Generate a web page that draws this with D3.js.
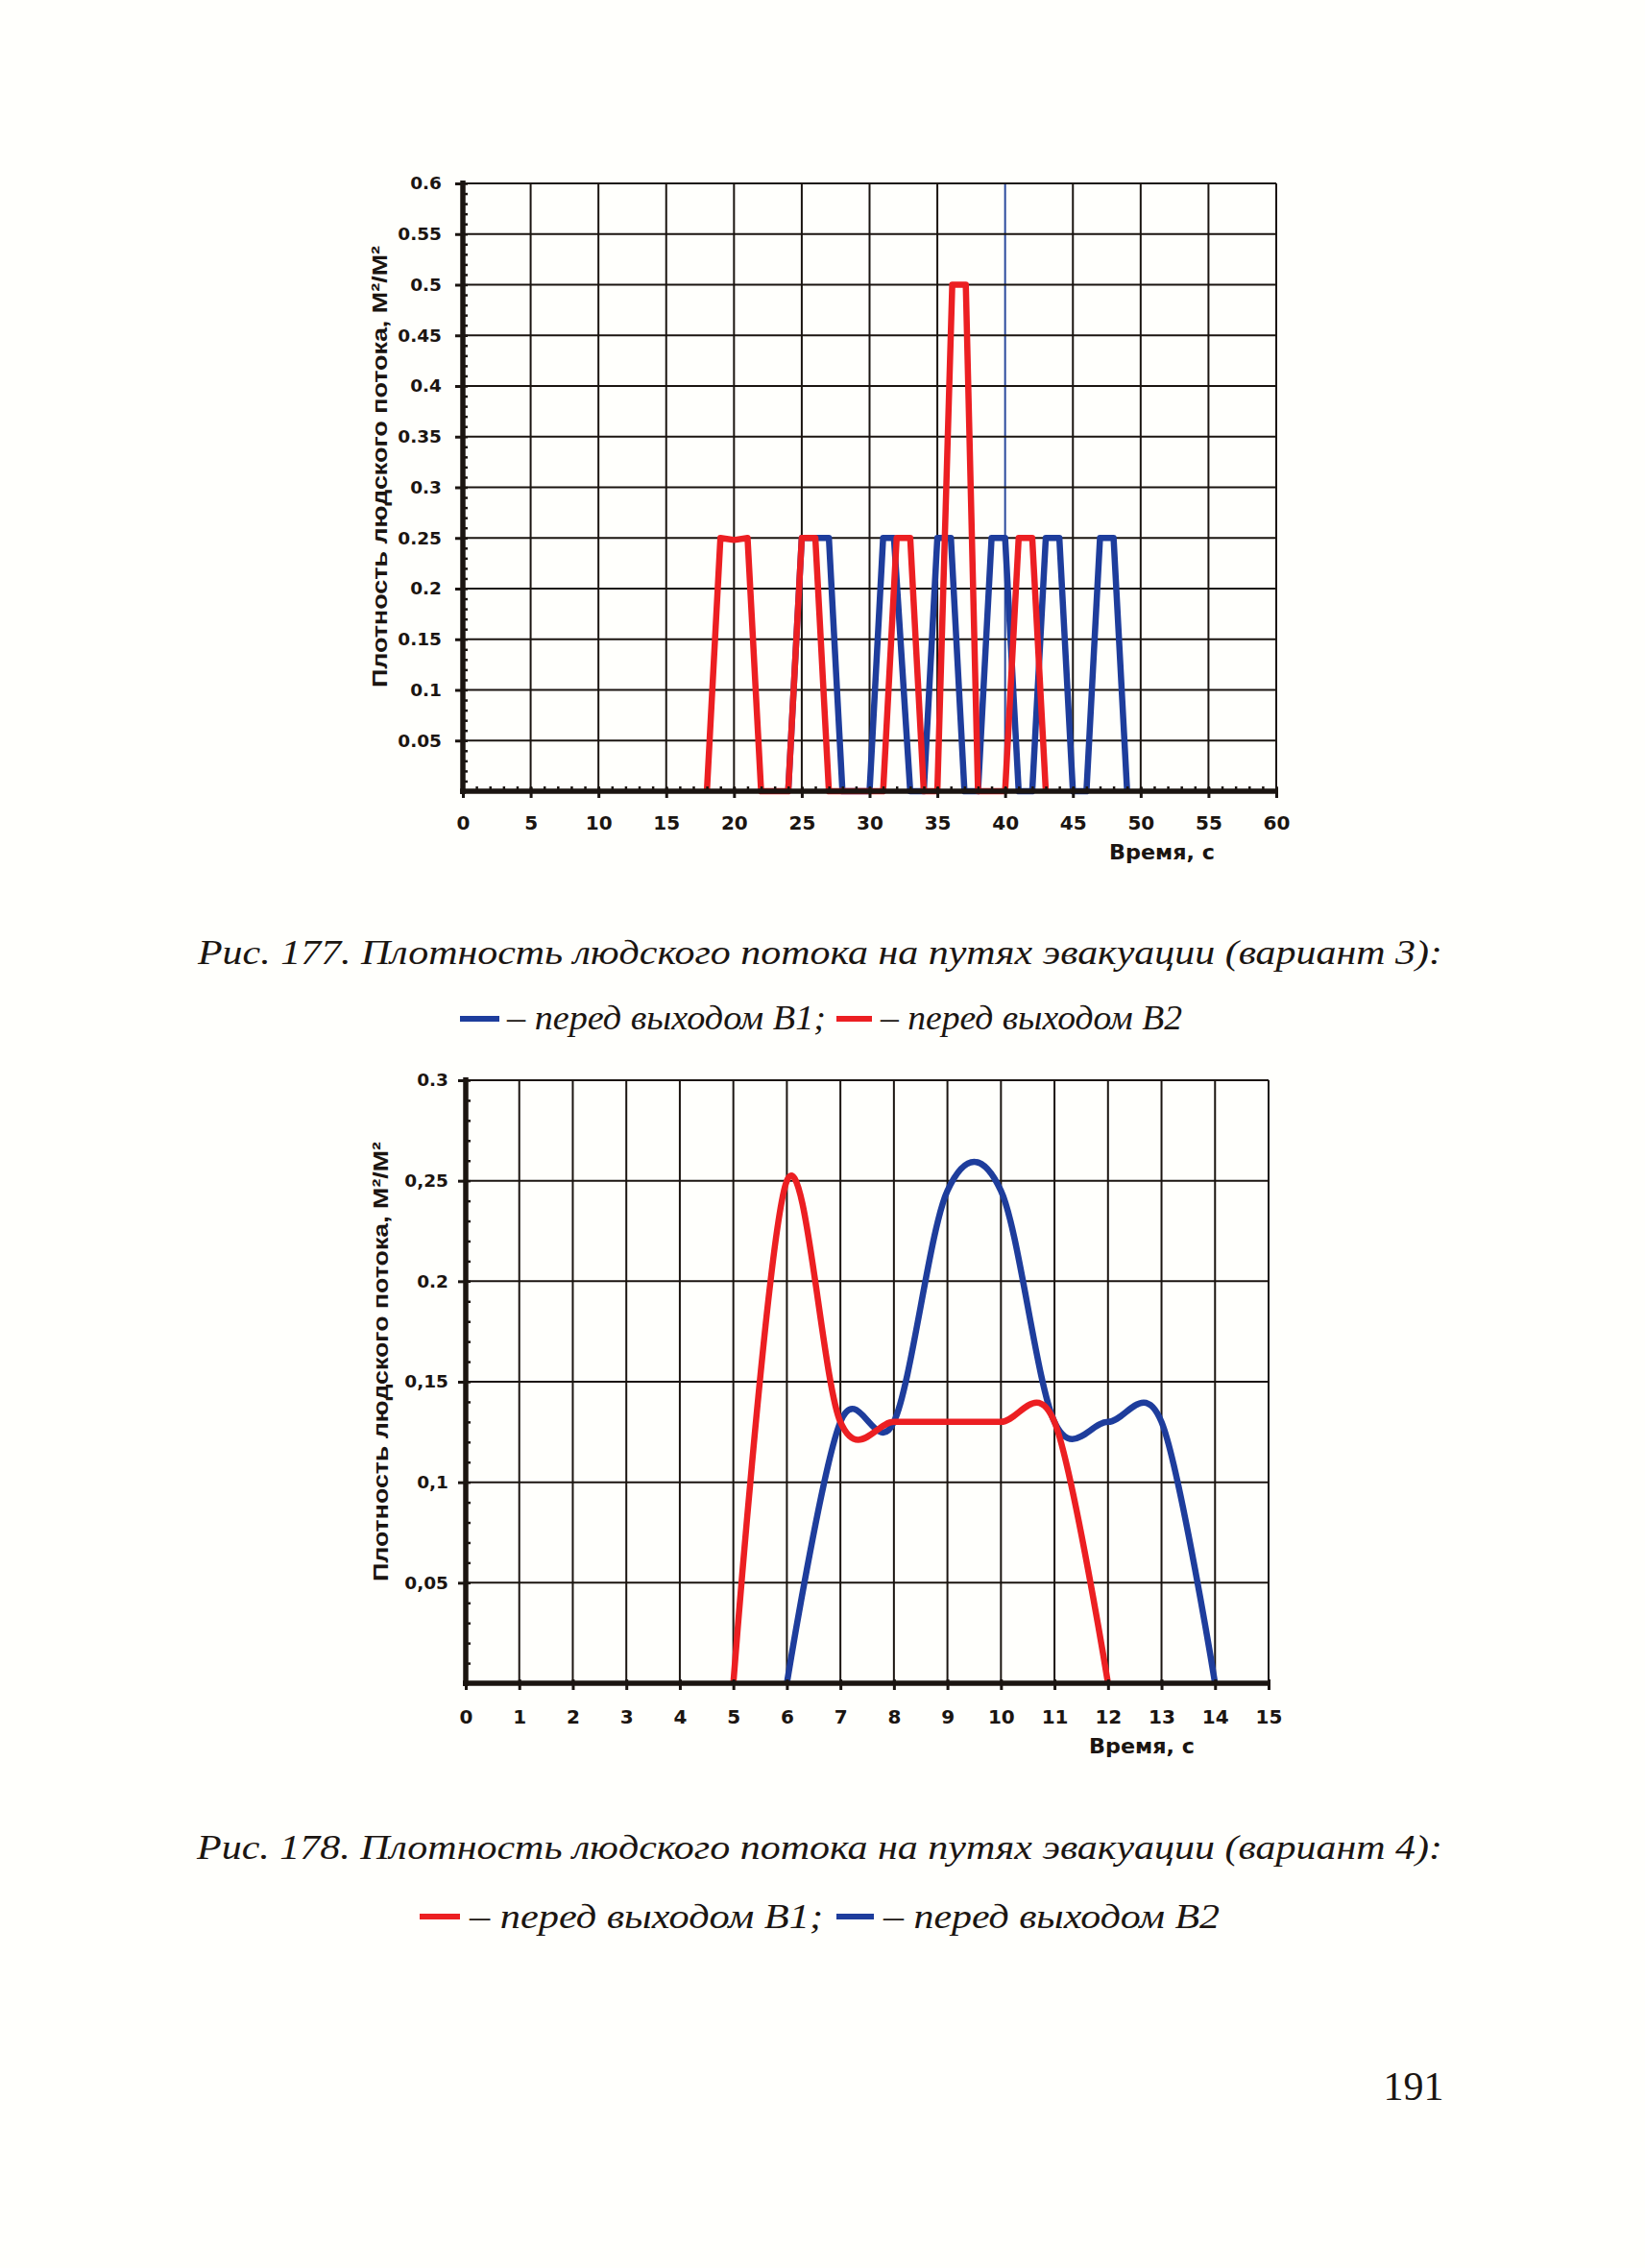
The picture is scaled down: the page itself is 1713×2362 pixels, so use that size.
<!DOCTYPE html>
<html><head><meta charset="utf-8">
<script src="https://cdn.jsdelivr.net/npm/d3@7"></script>
<style>body{margin:0;background:#fffffc}</style>
</head><body>
<svg id="page" width="1713" height="2362"></svg>
<script>
// ---------- DATA: Fig. 177 (variant 3) ----------
const fig177Time_B1    = [24, 25, 27, 28, 30, 31, 31.8, 33, 34, 35, 36, 37, 38, 39, 40, 41, 42, 43, 44, 45, 46, 47, 48, 49];
const fig177Density_B1 = [0, 0.25, 0.25, 0, 0, 0.25, 0.25, 0, 0, 0.25, 0.25, 0, 0, 0.25, 0.25, 0, 0, 0.25, 0.25, 0, 0, 0.25, 0.25, 0];
const fig177Time_B2    = [18, 19, 20, 21, 22, 24, 25, 26, 27, 31, 32, 33, 34, 35, 36.1, 37.1, 38, 40, 41, 42, 43];
const fig177Density_B2 = [0, 0.25, 0.248, 0.25, 0, 0, 0.25, 0.25, 0, 0, 0.25, 0.25, 0, 0, 0.5, 0.5, 0, 0, 0.25, 0.25, 0];
const fig177XTicks = [0, 5, 10, 15, 20, 25, 30, 35, 40, 45, 50, 55, 60];
const fig177YTicks = [0.05, 0.1, 0.15, 0.2, 0.25, 0.3, 0.35, 0.4, 0.45, 0.5, 0.55, 0.6];
const fig177YLabels = ["0.05", "0.1", "0.15", "0.2", "0.25", "0.3", "0.35", "0.4", "0.45", "0.5", "0.55", "0.6"];

// ---------- DATA: Fig. 178 (variant 4) ----------
const fig178Time_B1    = [5, 6, 7, 8, 9, 10, 11, 12];
const fig178Density_B1 = [0, 0.25, 0.13, 0.13, 0.13, 0.13, 0.13, 0];
const fig178Time_B2    = [6, 7, 8, 9, 10, 11, 12, 13, 14];
const fig178Density_B2 = [0, 0.13, 0.13, 0.245, 0.245, 0.13, 0.13, 0.13, 0];
const fig178XTicks = [0, 1, 2, 3, 4, 5, 6, 7, 8, 9, 10, 11, 12, 13, 14, 15];
const fig178YTicks = [0.05, 0.1, 0.15, 0.2, 0.25, 0.3];
const fig178YLabels = ["0,05", "0,1", "0,15", "0.2", "0,25", "0.3"];

const yTitle = "Плотность людского потока, М²/М²";
const xTitle = "Время, с";
const caption177 = "Рис. 177. Плотность людского потока на путях эвакуации (вариант 3):";
const caption178 = "Рис. 178. Плотность людского потока на путях эвакуации (вариант 4):";
const legendB1 = "– перед выходом В1;";
const legendB2 = "– перед выходом В2";

const RED = "#ec1f22", BLUE = "#1e3d9c", INK = "#1b1511";
const svg = d3.select("#page");

function drawChart(c) {
  const x = d3.scaleLinear().domain(c.xDomain).range([c.left, c.right]);
  const y = d3.scaleLinear().domain(c.yDomain).range([c.bottom, c.top]);
  const g = svg.append("g");

  // grid
  g.selectAll("line.vg").data(c.xGrid).join("line")
    .attr("x1", d => x(d)).attr("x2", d => x(d))
    .attr("y1", y(c.yDomain[1])).attr("y2", y(c.yDomain[0]))
    .attr("stroke", d => d === c.blueGrid ? "#2b4a9e" : INK)
    .attr("stroke-width", 2);
  g.selectAll("line.hg").data(c.yTicks).join("line")
    .attr("y1", d => y(d)).attr("y2", d => y(d))
    .attr("x1", x(c.xDomain[0])).attr("x2", x(c.xDomain[1]))
    .attr("stroke", INK).attr("stroke-width", 2);

  // series
  c.series.forEach(s => {
    const pts = s.t.map((t, i) => [t, s.v[i]]);
    g.append("path").datum(pts)
      .attr("d", d3.line().x(d => x(d[0])).y(d => y(d[1])).curve(c.curve))
      .attr("fill", "none").attr("stroke", s.color).attr("stroke-width", 6.5)
      .attr("stroke-linejoin", "round").attr("stroke-linecap", "butt");
  });

  // minor ticks
  g.append("g").attr("transform", `translate(${c.left},0)`)
    .call(d3.axisLeft(y).tickValues(c.yMinor).tickSize(-5).tickSizeOuter(0).tickFormat(""))
    .call(a => a.selectAll("line").attr("stroke", INK).attr("stroke-width", 2.5))
    .call(a => a.select(".domain").remove());
  if (c.xMinor.length) {
    g.append("g").attr("transform", `translate(0,${c.bottom})`)
      .call(d3.axisBottom(x).tickValues(c.xMinor).tickSize(-5).tickSizeOuter(0).tickFormat(""))
      .call(a => a.selectAll("line").attr("stroke", INK).attr("stroke-width", 2.5))
      .call(a => a.select(".domain").remove());
  }

  // major axes
  const fontAttrs = a => a.attr("font-family", "DejaVu Sans").attr("font-weight", "bold")
      .attr("font-size", 19).attr("fill", INK);
  g.append("g").attr("transform", `translate(${c.left},0)`)
    .call(d3.axisLeft(y).tickValues(c.yTicks).tickSize(8).tickSizeOuter(0)
      .tickPadding(c.yPad).tickFormat((d, i) => c.yLabels[i]))
    .call(a => a.select(".domain").attr("stroke", INK).attr("stroke-width", 5.5)
      .attr("d", `M0,${c.bottom + 3}V${c.top - 3}`))
    .call(a => a.selectAll("line").attr("stroke", INK).attr("stroke-width", 3))
    .call(a => a.selectAll("text").call(fontAttrs).attr("font-size", 18.5));
  g.append("g").attr("transform", `translate(0,${c.bottom})`)
    .call(d3.axisBottom(x).tickValues(c.xTicks).tickSize(7).tickSizeOuter(0).tickPadding(c.xPad))
    .call(a => a.select(".domain").attr("stroke", INK).attr("stroke-width", 5.5)
      .attr("d", `M${c.left - 3},0H${c.right + 2}`))
    .call(a => a.selectAll(".tick line").attr("stroke", INK).attr("stroke-width", 3).attr("y1", -4))
    .call(a => a.selectAll("text").call(fontAttrs).attr("font-size", 20));

  // titles
  g.append("text").text(xTitle).attr("x", c.xTitleX).attr("y", c.xTitleY)
    .attr("text-anchor", "middle").call(fontAttrs).attr("font-size", 21)
    .attr("textLength", 110).attr("lengthAdjust", "spacingAndGlyphs");
  g.append("text").text(yTitle)
    .attr("transform", `translate(${c.yTitleX},${c.yTitleY}) rotate(-90)`)
    .attr("text-anchor", "middle").attr("font-family", "Liberation Sans")
    .attr("font-weight", "bold").attr("font-size", 22).attr("fill", INK)
    .attr("textLength", c.yTitleLen).attr("lengthAdjust", "spacingAndGlyphs");
}

drawChart({
  left: 482, right: 1329, top: 191, bottom: 824,
  xDomain: [0, 60], yDomain: [0, 0.6],
  xGrid: fig177XTicks.slice(1), xTicks: fig177XTicks,
  xMinor: d3.range(0, 61, 1), yMinor: d3.range(0, 0.601, 0.01),
  yTicks: fig177YTicks, yLabels: fig177YLabels, blueGrid: 40,
  yPad: 14, xPad: 19,
  curve: d3.curveLinear,
  series: [
    {t: fig177Time_B1, v: fig177Density_B1, color: BLUE},
    {t: fig177Time_B2, v: fig177Density_B2, color: RED}
  ],
  xTitleX: 1210, xTitleY: 895, yTitleX: 403, yTitleY: 486, yTitleLen: 460
});

drawChart({
  left: 485, right: 1321, top: 1125, bottom: 1753,
  xDomain: [0, 15], yDomain: [0, 0.3],
  xGrid: fig178XTicks.slice(1), xTicks: fig178XTicks,
  xMinor: [], yMinor: d3.range(0, 0.301, 0.01),
  yTicks: fig178YTicks, yLabels: fig178YLabels, blueGrid: null,
  yPad: 10, xPad: 21,
  curve: d3.curveCardinal.tension(0),
  series: [
    {t: fig178Time_B2, v: fig178Density_B2, color: BLUE},
    {t: fig178Time_B1, v: fig178Density_B1, color: RED}
  ],
  xTitleX: 1189, xTitleY: 1826, yTitleX: 404, yTitleY: 1418, yTitleLen: 458
});

// captions and legends
function serif(txt, x, y, len, anchor) {
  return svg.append("text").text(txt).attr("x", x).attr("y", y)
    .attr("font-family", "Liberation Serif").attr("font-style", "italic")
    .attr("font-size", 36).attr("fill", INK).attr("text-anchor", anchor || "start")
    .attr("textLength", len).attr("lengthAdjust", "spacingAndGlyphs");
}
serif(caption177, 206, 1004, 1296);
svg.append("rect").attr("x", 479).attr("y", 1058).attr("width", 41).attr("height", 6).attr("fill", BLUE);
serif(legendB1, 528, 1072, 332);
svg.append("rect").attr("x", 871).attr("y", 1058).attr("width", 37).attr("height", 6).attr("fill", RED);
serif(legendB2, 917, 1072, 314);

serif(caption178, 205, 1936, 1297);
svg.append("rect").attr("x", 437).attr("y", 1993).attr("width", 42).attr("height", 6).attr("fill", RED);
serif(legendB1, 489, 2008, 368);
svg.append("rect").attr("x", 871).attr("y", 1993).attr("width", 39).attr("height", 6).attr("fill", BLUE);
serif(legendB2, 920, 2008, 350);

svg.append("text").text("191").attr("x", 1472).attr("y", 2187)
  .attr("text-anchor", "middle").attr("font-family", "Liberation Serif")
  .attr("font-size", 42).attr("fill", INK);
</script>
</body></html>
